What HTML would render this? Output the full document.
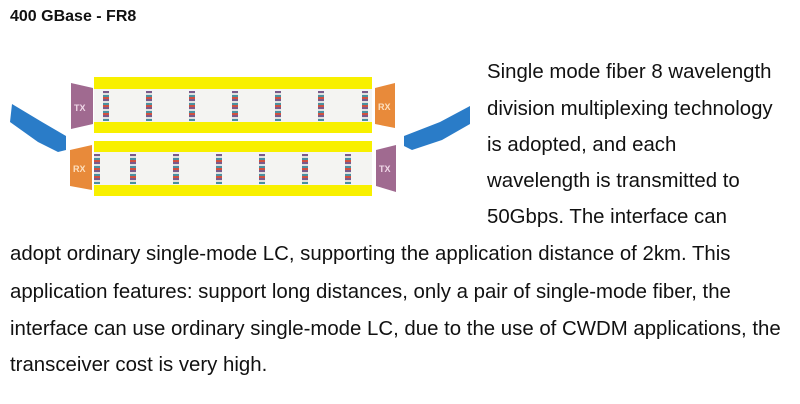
<!DOCTYPE html>
<html><head><style>
body{margin:0;width:800px;height:404px;background:#fff;position:relative;overflow:hidden;font-family:"Liberation Sans",sans-serif;color:#111}
.t{position:absolute;font-size:20.4px;white-space:nowrap}
.y{position:absolute;background:#f8f000}
.w{position:absolute;background:#f4f4f2}
.c{position:absolute;width:6px;height:30px;background:repeating-linear-gradient(180deg,#7a5a8a 0 2px,#e0e0e0 2px 4px,#4a90a0 4px 6px,#d05040 6px 8px)}
</style></head><body>
<div class="t" style="left:10px;top:8px;font-weight:bold;font-size:16px">400 GBase - FR8</div>
<div class="y" style="left:94px;top:77px;width:278px;height:56px"></div>
<div class="w" style="left:94px;top:89px;width:278px;height:33px"></div>
<div class="y" style="left:94px;top:141px;width:278px;height:55px"></div>
<div class="w" style="left:94px;top:152px;width:278px;height:33px"></div>
<div class="c" style="left:103px;top:91px"></div><div class="c" style="left:146px;top:91px"></div><div class="c" style="left:189px;top:91px"></div><div class="c" style="left:232px;top:91px"></div><div class="c" style="left:275px;top:91px"></div><div class="c" style="left:318px;top:91px"></div><div class="c" style="left:362px;top:91px"></div>
<div class="c" style="left:94px;top:154px"></div><div class="c" style="left:130px;top:154px"></div><div class="c" style="left:173px;top:154px"></div><div class="c" style="left:216px;top:154px"></div><div class="c" style="left:259px;top:154px"></div><div class="c" style="left:302px;top:154px"></div><div class="c" style="left:345px;top:154px"></div>
<svg style="position:absolute;left:0;top:0" width="800" height="404">
<polygon points="71,83 93,88 93,124 71,129" fill="#a06a90"/><text x="74" y="111" fill="#f0d8e8" font-size="9" font-weight="bold" font-family="Liberation Sans">TX</text>
<polygon points="375,88 395,83 395,128 375,124" fill="#e88a3a"/><text x="378" y="110" fill="#fde0c0" font-size="9" font-weight="bold" font-family="Liberation Sans">RX</text>
<polygon points="70,150 92,145 92,190 70,186" fill="#e88a3a"/><text x="73" y="172" fill="#fde0c0" font-size="9" font-weight="bold" font-family="Liberation Sans">RX</text>
<polygon points="376,150 396,145 396,192 376,186" fill="#a06a90"/><text x="379" y="172" fill="#f0d8e8" font-size="9" font-weight="bold" font-family="Liberation Sans">TX</text>
<path d="M12,104 L42,122 L66,136 L66,150 L58,152 L38,142 L10,122Z" fill="#2a7cc8"/>
<path d="M470,106 L440,122 L404,136 L404,146 L412,150 L442,140 L470,124Z" fill="#2a7cc8"/>
</svg>
<div class="t" style="left:487px;top:61px">Single mode fiber 8 wavelength</div>
<div class="t" style="left:487px;top:98px">division multiplexing technology</div>
<div class="t" style="left:487px;top:134px">is adopted, and each</div>
<div class="t" style="left:487px;top:170px">wavelength is transmitted to</div>
<div class="t" style="left:487px;top:206px">50Gbps. The interface can</div>
<div class="t" style="left:10px;top:243px">adopt ordinary single-mode LC, supporting the application distance of 2km. This</div>
<div class="t" style="left:10px;top:281px">application features: support long distances, only a pair of single-mode fiber, the</div>
<div class="t" style="left:10px;top:318px">interface can use ordinary single-mode LC, due to the use of CWDM applications, the</div>
<div class="t" style="left:10px;top:354px">transceiver cost is very high.</div>
</body></html>
